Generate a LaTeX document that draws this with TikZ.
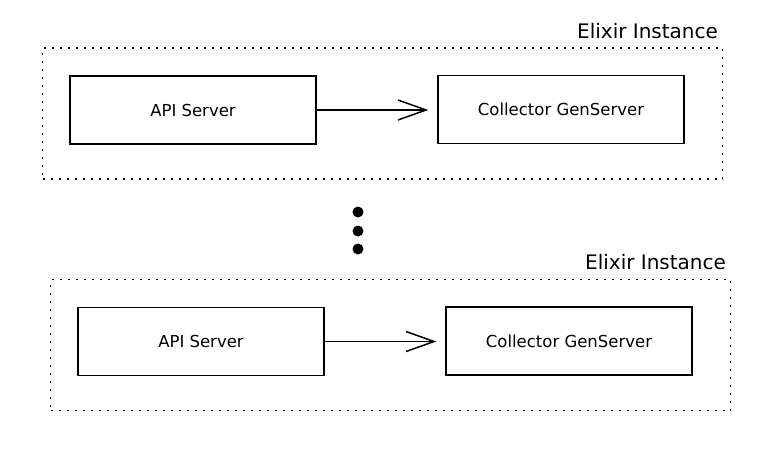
\documentclass[tikz,border=0pt]{standalone}
\usepackage{fontspec}
\setmainfont{DejaVu Sans}
\usetikzlibrary{arrows.meta,positioning}

\begin{document}
\begin{tikzpicture}[x=1pt,y=-1pt,
box/.style={draw,line width=1.5pt,minimum width=246pt,minimum height=68pt,
    font=\fontsize{16.5}{18}\selectfont},
inst/.style={draw,dash pattern=on 2pt off 6pt,line width=1.3pt,
    minimum width=680pt,minimum height=131pt},
title/.style={font=\fontsize{20}{22}\selectfont,inner sep=0pt},
dot/.style={circle,fill,inner sep=0pt,minimum size=11pt},
>={Straight Barb[length=28pt,width=20pt]}]

\useasboundingbox (0,0) rectangle (783,452);

\foreach \i/\ox/\oy in {1/0/0,2/8/231.5}
{
\node[inst] (inst\i) at (382.5+\ox,113.5+\oy) {};
\node[title,anchor=base east] (lab\i) at ([xshift=-5pt,yshift=9pt]inst\i.north east) {Elixir Instance};
\node[box] (api\i) at (193+\ox,110+\oy) {API Server};
\node[box] (col\i) at (561+\ox,109.5+\oy) {Collector GenServer};
\draw[->,line width=1.5pt,shorten >=9pt] (api\i.east) -- (api\i.east -| col\i.west);
}

\foreach \y [count=\k] in {212,231,249}
\node[dot] (dot\k) at (358,\y) {};
\end{tikzpicture}
\end{document}
